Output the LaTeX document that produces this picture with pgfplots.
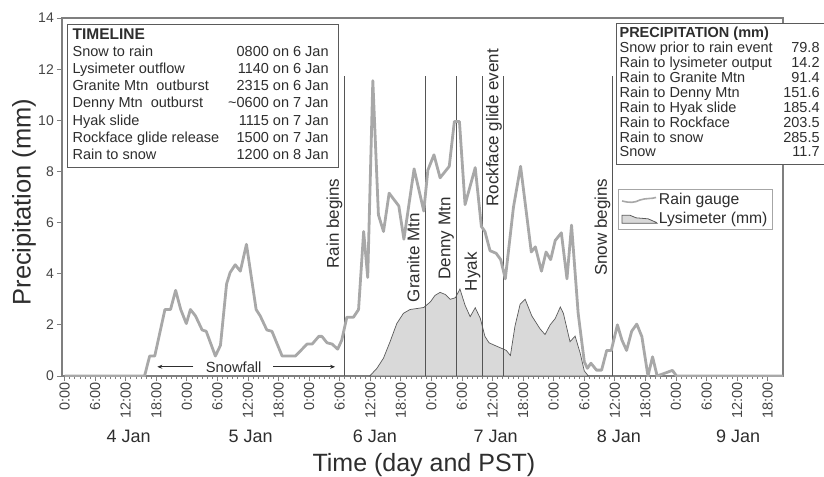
\documentclass[border=0pt]{standalone}
\usepackage{pgfplots}
\pgfplotsset{compat=1.18}
\usepackage{fontspec}
\setmainfont{Liberation Sans}
\usetikzlibrary{arrows.meta}
\definecolor{gauge}{HTML}{A8A8A8}
\definecolor{lysfill}{HTML}{D9D9D9}
\definecolor{lysline}{HTML}{5A5A5A}
\definecolor{evline}{HTML}{555555}
\definecolor{framegray}{HTML}{7F7F7F}
\definecolor{txt}{HTML}{2E2E2E}
\definecolor{ticktxt}{HTML}{454545}
\definecolor{boxgray}{HTML}{5A5A5A}

\begin{document}
\begin{tikzpicture}
\begin{axis}[
  at={(0,0)}, anchor=south west,
  scale only axis, width=721bp, height=358bp,
  xmin=-0.5, xmax=141, ymin=0, ymax=14,
  clip mode=individual,
  axis line style={draw=framegray, line width=1.2bp},
  xtick={0,6,...,138},
  xticklabels={0:00,6:00,12:00,18:00,0:00,6:00,12:00,18:00,0:00,6:00,12:00,18:00,0:00,6:00,12:00,18:00,0:00,6:00,12:00,18:00,0:00,6:00,12:00,18:00},
  minor x tick num=5,
  ytick={0,2,...,14},
  xtick pos=left, ytick pos=left,
  tick align=outside,
  major tick length=5bp, minor tick length=3bp,
  tick style={draw=framegray, line width=0.8bp},
  minor tick style={line width=0.6bp},
  /pgf/number format/assume math mode=true,
  x tick label style={rotate=90, anchor=east, font=\fontsize{14.5bp}{14.5bp}\selectfont, text=ticktxt, inner sep=1.5bp},
  y tick label style={font=\fontsize{14bp}{14bp}\selectfont, text=ticktxt, inner sep=3bp},
  xlabel={Time (day and PST)},
  ylabel={Precipitation (mm)},
  xlabel style={at={(axis description cs:0.502,-0.249)}, anchor=center, font=\fontsize{25bp}{25bp}\selectfont, text=txt},
  ylabel style={at={(axis description cs:-0.0527,0.486)}, anchor=center, font=\fontsize{25.5bp}{25.5bp}\selectfont, text=txt},
  legend style={at={(rel axis cs:0.771,0.522)}, anchor=north west, draw=gray!70, line width=0.8bp, fill=white,
    font=\fontsize{15.7bp}{17bp}\selectfont, text=txt, inner xsep=3bp, inner ysep=2.5bp, row sep=3bp,
    nodes={inner sep=1.5bp}},
  legend cell align=left,
]
\addlegendimage{legend image code/.code={\draw[gauge, line width=1.6bp] (0bp,-1bp) .. controls (8bp,-3bp) and (12bp,-3bp) .. (18bp,0bp) .. controls (24bp,2bp) and (30bp,1bp) .. (34bp,2.5bp);}}
\addlegendentry{Rain gauge}
\addlegendimage{legend image code/.code={\filldraw[fill=lysfill, draw=lysline, line width=0.8bp] (0bp,-4.5bp) -- (0bp,3.5bp) -- (8bp,3.5bp) -- (14bp,1bp) -- (26bp,0bp) -- (34bp,-3.5bp) -- (35bp,-4.5bp) -- cycle;}}
\addlegendentry{Lysimeter (mm)}

% Lysimeter (filled)
\addplot[fill=lysfill, draw=lysline, line width=0.7bp, forget plot] coordinates {
(59.9,0) (61.3,0.3) (62.6,0.7) (63.9,1.35) (65.2,2.05) (66.5,2.45) (67.8,2.6) (69.2,2.64)
(70.5,2.68) (71.8,2.9) (72.7,3.15) (73.7,3.27) (74.7,3.19) (75.7,3.0) (76.7,3.06) (77.6,3.4)
(78.6,2.77) (79.6,2.32) (80.6,2.67) (81.6,2.25) (82.5,1.55) (83.3,1.3) (84.4,1.2) (85.8,1.08)
(86.7,1.0) (87.5,0.8) (88.4,1.95) (89.4,2.8) (90.4,3.0) (91.7,2.35) (93.3,1.85) (94.3,1.62)
(95.3,2.0) (96.3,2.25) (97.3,2.7) (97.9,2.45) (99.2,1.34) (100.2,1.56) (101.2,0.89) (102.0,0.2) (102.8,0)
} \closedcycle;

% Event lines
\draw[evline, line width=1bp] (axis cs:55,0) -- (axis cs:55,11.75);
\draw[evline, line width=1bp] (axis cs:70.8,0) -- (axis cs:70.8,11.75);
\draw[evline, line width=1bp] (axis cs:76.9,0) -- (axis cs:76.9,11.75);
\draw[evline, line width=1bp] (axis cs:82.1,0) -- (axis cs:82.1,11.75);
\draw[evline, line width=1bp] (axis cs:86.1,0) -- (axis cs:86.1,11.75);
\draw[evline, line width=1bp] (axis cs:107.6,0) -- (axis cs:107.6,11.75);

% Rain gauge
\addplot[gauge, line width=2.8bp, line join=round, forget plot] coordinates {
(0,0) (15.7,0) (16.7,0.78) (17.7,0.78) (19.7,2.6) (20.8,2.6) (21.8,3.35) (22.8,2.6) (23.9,2.05)
(24.7,2.6) (25.7,2.35) (27.0,1.8) (27.8,1.75) (29.6,0.78) (30.6,1.2) (31.8,3.6) (32.5,4.05)
(33.5,4.35) (34.5,4.1) (35.7,5.15) (37.6,2.6) (38.4,2.35) (39.7,1.8) (40.7,1.75) (42.7,0.78)
(45.3,0.78) (47.6,1.25) (48.6,1.25) (49.9,1.55) (50.5,1.55) (51.5,1.3) (52.5,1.25) (53.6,1.05)
(54.4,1.4) (55.4,2.3) (56.7,2.3) (57.7,2.6) (58.7,5.65) (59.5,3.85) (60.5,11.55) (61.6,6.3)
(62.6,5.65) (63.7,7.15) (65.6,6.65) (66.6,5.35) (68.6,8.1) (70.5,6.45) (71.3,8.05) (72.5,8.65)
(73.7,7.75) (75.5,8.2) (76.5,9.95) (77.5,9.95) (78.6,6.7) (80.6,8.15) (81.8,5.85) (82.5,5.65)
(83.5,4.9) (84.7,4.8) (85.6,4.55) (86.5,3.8) (88.1,6.6) (89.5,8.2) (91.6,4.85) (92.4,5.05)
(93.6,4.1) (94.5,4.85) (95.4,4.55) (96.3,5.3) (97.5,5.6) (98.6,3.8) (99.5,5.9) (100.8,2.45)
(102.0,0.56) (102.6,0.3) (103.3,0.5) (104.4,0.23) (105.4,0.23) (106.4,1.0) (107.3,1.0)
(108.5,2.0) (109.4,1.4) (110.3,1.0) (111.3,1.75) (112.3,2.03) (113.3,1.54) (114.5,0)
(115.4,0.75) (116.3,0) (119.3,0.22) (120.1,0) (141,0)
};

% Event labels
\node[rotate=90, anchor=base east, inner sep=0pt, font=\fontsize{17bp}{17bp}\selectfont, text=txt] at ([xshift=-6bp]axis cs:55,7.73) {Rain begins};
\node[rotate=90, anchor=base east, inner sep=0pt, font=\fontsize{17bp}{17bp}\selectfont, text=txt] at ([xshift=-6bp]axis cs:70.8,6.37) {Granite Mtn};
\node[rotate=90, anchor=base east, inner sep=0pt, font=\fontsize{17bp}{17bp}\selectfont, text=txt] at ([xshift=-6bp]axis cs:76.9,6.99) {Denny Mtn};
\node[rotate=90, anchor=base east, inner sep=0pt, font=\fontsize{17bp}{17bp}\selectfont, text=txt] at ([xshift=-6bp]axis cs:82.1,4.84) {Hyak};
\node[rotate=90, anchor=base east, inner sep=0pt, font=\fontsize{17bp}{17bp}\selectfont, text=txt] at ([xshift=-5bp]axis cs:86.1,12.8) {Rockface glide event};
\node[rotate=90, anchor=base east, inner sep=0pt, font=\fontsize{17bp}{17bp}\selectfont, text=txt] at ([xshift=-6bp]axis cs:107.6,7.73) {Snow begins};

% Snowfall annotation
\draw[txt, line width=0.8bp, -{Stealth[length=5bp,width=4bp]}] (axis cs:25.3,0.36) -- (axis cs:18.2,0.36);
\draw[txt, line width=0.8bp, -{Stealth[length=5bp,width=4bp]}] (axis cs:41,0.36) -- (axis cs:53.1,0.36);
\node[font=\fontsize{14.7bp}{14.7bp}\selectfont, text=txt] at (axis cs:33.2,0.36) {Snowfall};

% Day labels
\node[font=\fontsize{18bp}{18bp}\selectfont, text=txt] at ([yshift=-60.7bp]axis cs:12.6,0) {4 Jan};
\node[font=\fontsize{18bp}{18bp}\selectfont, text=txt] at ([yshift=-60.7bp]axis cs:36.5,0) {5 Jan};
\node[font=\fontsize{18bp}{18bp}\selectfont, text=txt] at ([yshift=-60.7bp]axis cs:60.9,0) {6 Jan};
\node[font=\fontsize{18bp}{18bp}\selectfont, text=txt] at ([yshift=-60.7bp]axis cs:84.6,0) {7 Jan};
\node[font=\fontsize{18bp}{18bp}\selectfont, text=txt] at ([yshift=-60.7bp]axis cs:108.8,0) {8 Jan};
\node[font=\fontsize{18bp}{18bp}\selectfont, text=txt] at ([yshift=-60.7bp]axis cs:132.2,0) {9 Jan};
\end{axis}

% Timeline box
\node[draw=boxgray, line width=1.2bp, fill=white, anchor=north west, inner xsep=5bp, inner ysep=2.5bp, text=txt,
      font=\fontsize{14.5bp}{17.2bp}\selectfont] at (5bp,352bp) {%
\begin{tabular*}{261bp}{@{}l@{\extracolsep{\fill}}r@{\hspace{5bp}}}
\multicolumn{2}{@{}l@{}}{\fontsize{15.5bp}{17.2bp}\selectfont\bfseries TIMELINE}\\
Snow to rain & 0800 on 6 Jan\\
Lysimeter outflow & 1140 on 6 Jan\\
Granite Mtn\ \ outburst & 2315 on 6 Jan\\
Denny Mtn\ \ outburst & \textasciitilde0600 on 7 Jan\\
Hyak slide & 1115 on 7 Jan\\
Rockface glide release & 1500 on 7 Jan\\
Rain to snow & 1200 on 8 Jan
\end{tabular*}};

% Precipitation box
\node[draw=boxgray, line width=1.2bp, fill=white, anchor=north west, inner xsep=3bp, inner ysep=3.8bp, text=txt,
      font=\fontsize{14.5bp}{14.6bp}\selectfont] at (554bp,353bp) {%
\begin{tabular*}{206bp}{@{}l@{\extracolsep{\fill}}r@{\hspace{6bp}}}
\multicolumn{2}{@{}l@{}}{\bfseries PRECIPITATION (mm)}\\
Snow prior to rain event & 79.8\\
Rain to lysimeter output & 14.2\\
Rain to Granite Mtn & 91.4\\
Rain to Denny Mtn & 151.6\\
Rain to Hyak slide & 185.4\\
Rain to Rockface & 203.5\\
Rain to snow & 285.5\\
Snow & 11.7
\end{tabular*}};

\pgfresetboundingbox
\path[use as bounding box] (-62bp,-101bp) rectangle (762bp,376bp);
\end{tikzpicture}
\end{document}
